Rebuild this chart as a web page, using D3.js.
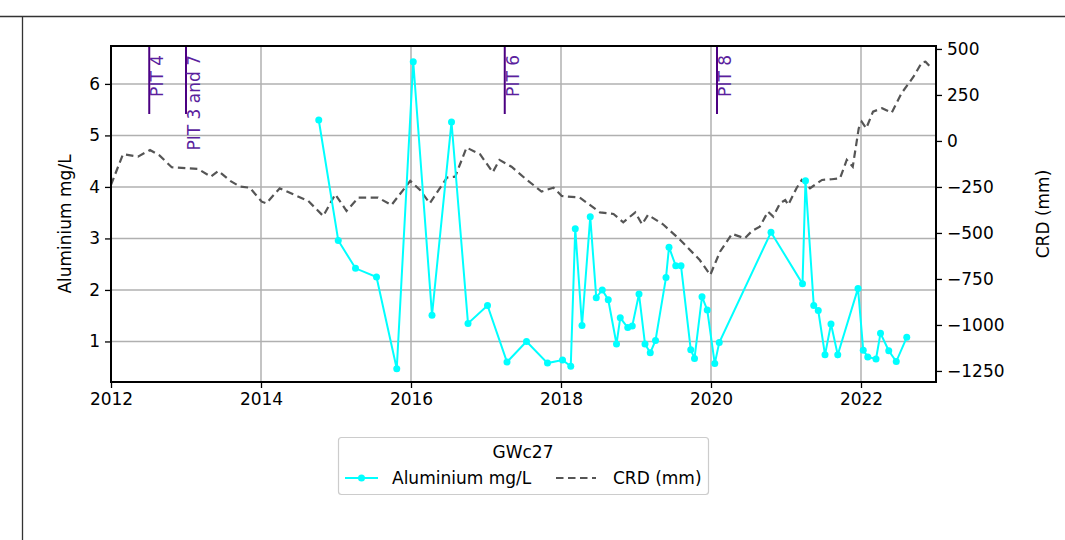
<!DOCTYPE html>
<html><head><meta charset="utf-8">
<script src="https://cdn.jsdelivr.net/npm/d3@7"></script>
<style>body{margin:0;background:#fff}svg{display:block;font-family:"DejaVu Sans",sans-serif}</style>
</head><body><svg id="c" width="1065" height="540"></svg>
<script>
// Aluminium (mg/L) samples: decimal year, value
const alYears = [2014.77,2015.03,2015.26,2015.54,2015.81,2016.03,2016.28,2016.54,2016.76,2017.02,2017.28,2017.54,2017.82,2018.02,2018.13,2018.19,2018.28,2018.39,2018.47,2018.55,2018.63,2018.74,2018.79,2018.89,2018.95,2019.04,2019.12,2019.19,2019.26,2019.40,2019.44,2019.53,2019.60,2019.73,2019.78,2019.88,2019.95,2020.05,2020.11,2020.80,2021.22,2021.26,2021.37,2021.43,2021.52,2021.60,2021.69,2021.96,2022.03,2022.09,2022.20,2022.26,2022.37,2022.47,2022.61];
const alValues = [5.30,2.96,2.42,2.25,0.47,6.43,1.51,5.26,1.35,1.70,0.60,1.00,0.58,0.64,0.52,3.19,1.31,3.42,1.85,2.00,1.81,0.95,1.46,1.27,1.30,1.92,0.95,0.78,1.02,2.24,2.83,2.47,2.47,0.84,0.67,1.87,1.61,0.57,0.98,3.12,2.12,4.12,1.70,1.60,0.74,1.34,0.74,2.03,0.83,0.70,0.66,1.16,0.82,0.61,1.08];
// CRD (mm): decimal year, value
const crdYears = [2012.00,2012.16,2012.36,2012.52,2012.65,2012.81,2013.01,2013.16,2013.33,2013.43,2013.59,2013.72,2013.85,2014.01,2014.07,2014.25,2014.43,2014.63,2014.83,2014.99,2015.14,2015.30,2015.56,2015.74,2015.99,2016.12,2016.25,2016.48,2016.59,2016.74,2016.92,2017.09,2017.18,2017.34,2017.52,2017.74,2017.90,2018.01,2018.25,2018.52,2018.70,2018.83,2018.99,2019.08,2019.16,2019.36,2019.59,2019.85,2019.99,2020.12,2020.28,2020.45,2020.55,2020.65,2020.76,2020.83,2020.92,2020.99,2021.03,2021.14,2021.21,2021.32,2021.48,2021.61,2021.72,2021.81,2021.89,2021.97,2022.01,2022.07,2022.16,2022.28,2022.41,2022.54,2022.70,2022.81,2022.86,2022.92];
const crdValues = [-239,-72,-85,-49,-80,-143,-148,-152,-194,-163,-217,-248,-254,-330,-339,-257,-290,-326,-408,-290,-380,-308,-308,-348,-217,-266,-339,-199,-194,-36,-72,-170,-103,-140,-203,-275,-254,-299,-308,-388,-397,-442,-388,-453,-402,-453,-538,-647,-728,-602,-505,-529,-488,-466,-384,-411,-339,-321,-348,-257,-212,-257,-212,-208,-203,-103,-140,69,105,69,159,178,154,259,349,426,431,404];
// Event markers
const pitYears = [2012.51, 2013.00, 2017.25, 2020.08];
const pitLabels = ["PIT 4", "PIT 3 and 7", "PIT 6", "PIT 8"];
const xTicks = [2012, 2014, 2016, 2018, 2020, 2022];
const yLeftTicks = [1, 2, 3, 4, 5, 6];
const yRightTicks = [500, 250, 0, -250, -500, -750, -1000, -1250];

const svg = d3.select("#c");
const L = 111, R = 936, T = 46, B = 382;
const FS = 17;
const x = d3.scaleLinear().domain([2012, 2023]).range([L, R]);
const yL = d3.scaleLinear().domain([0.213, 6.736]).range([B, T]);
const yR = d3.scaleLinear().domain([-1310, 516]).range([B, T]);

// outer frame artifacts
svg.append("line").attr("x1", 0).attr("x2", 1065).attr("y1", 16.5).attr("y2", 16.5).attr("stroke", "#333").attr("stroke-width", 1.3);
svg.append("line").attr("x1", 22.5).attr("x2", 22.5).attr("y1", 16).attr("y2", 540).attr("stroke", "#333").attr("stroke-width", 1.3);

// grid
const g = svg.append("g");
g.selectAll(".gx").data(xTicks).join("line").attr("x1", d => x(d)).attr("x2", d => x(d)).attr("y1", T).attr("y2", B).attr("stroke", "#b0b0b0").attr("stroke-width", 1.5);
g.selectAll(".gy").data(yLeftTicks).join("line").attr("x1", L).attr("x2", R).attr("y1", d => yL(d)).attr("y2", d => yL(d)).attr("stroke", "#b0b0b0").attr("stroke-width", 1.5);

// PIT markers
const pit = svg.append("g");
pitYears.forEach((yr, i) => {
  pit.append("line").attr("x1", x(yr)).attr("x2", x(yr)).attr("y1", T).attr("y2", 114).attr("stroke", "#4b0082").attr("stroke-width", 2);
  pit.append("text").attr("transform", `translate(${x(yr) + 14},${T + 9}) rotate(-90)`).attr("text-anchor", "end")
    .attr("font-size", FS).attr("fill", "#5b1f9e").text(pitLabels[i]);
});

// CRD line
svg.append("path").datum(crdYears.map((d, i) => [d, crdValues[i]]))
  .attr("d", d3.line().x(d => x(d[0])).y(d => yR(d[1])))
  .attr("fill", "none").attr("stroke", "#555").attr("stroke-width", 2.2).attr("stroke-dasharray", "7.5,4.5");

// Aluminium line
const alData = alYears.map((d, i) => [d, alValues[i]]);
svg.append("path").datum(alData)
  .attr("d", d3.line().x(d => x(d[0])).y(d => yL(d[1])))
  .attr("fill", "none").attr("stroke", "#00ffff").attr("stroke-width", 2);
svg.selectAll(".pt").data(alData).join("circle").attr("cx", d => x(d[0])).attr("cy", d => yL(d[1])).attr("r", 3.5).attr("fill", "#00ffff");

// axes
const ax = d3.axisBottom(x).tickValues(xTicks).tickFormat(d3.format("d")).tickSize(6).tickPadding(5);
const gx = svg.append("g").attr("transform", `translate(0,${B})`).call(ax);
const ayl = d3.axisLeft(yL).tickValues(yLeftTicks).tickFormat(d3.format("d")).tickSize(6).tickPadding(5);
const gyl = svg.append("g").attr("transform", `translate(${L},0)`).call(ayl);
const ayr = d3.axisRight(yR).tickValues(yRightTicks).tickFormat(d => d < 0 ? "\u2212" + Math.abs(d) : String(d)).tickSize(6).tickPadding(5);
const gyr = svg.append("g").attr("transform", `translate(${R},0)`).call(ayr);
[gx, gyl, gyr].forEach(a => {
  a.select(".domain").remove();
  a.selectAll(".tick line").attr("stroke", "#000").attr("stroke-width", 1.3);
  a.selectAll(".tick text").attr("font-size", FS).attr("fill", "#000").attr("font-family", "DejaVu Sans");
});
// spines
svg.append("rect").attr("x", L).attr("y", T).attr("width", R - L).attr("height", B - T).attr("fill", "none").attr("stroke", "#000").attr("stroke-width", 2);

// axis labels
svg.append("text").attr("transform", `translate(71,${(T + B) / 2 + 10}) rotate(-90)`).attr("text-anchor", "middle").attr("font-size", FS).text("Aluminium mg/L");
svg.append("text").attr("transform", `translate(1049,${(T + B) / 2}) rotate(-90)`).attr("text-anchor", "middle").attr("font-size", FS).text("CRD (mm)");

// legend
const lg = svg.append("g");
lg.append("rect").attr("x", 338.5).attr("y", 437.5).attr("width", 370).attr("height", 57).attr("rx", 3).attr("fill", "#fff").attr("stroke", "#ccc").attr("stroke-width", 1.2);
lg.append("text").attr("x", 523).attr("y", 458).attr("text-anchor", "middle").attr("font-size", FS).text("GWc27");
lg.append("line").attr("x1", 345).attr("x2", 378).attr("y1", 478).attr("y2", 478).attr("stroke", "#00ffff").attr("stroke-width", 2);
lg.append("circle").attr("cx", 361.5).attr("cy", 478).attr("r", 3.5).attr("fill", "#00ffff");
lg.append("text").attr("x", 392).attr("y", 484).attr("font-size", FS).text("Aluminium mg/L");
lg.append("line").attr("x1", 556).attr("x2", 596).attr("y1", 478).attr("y2", 478).attr("stroke", "#555").attr("stroke-width", 2.2).attr("stroke-dasharray", "7.5,4.5");
lg.append("text").attr("x", 613).attr("y", 484).attr("font-size", FS).text("CRD (mm)");
</script></body></html>
